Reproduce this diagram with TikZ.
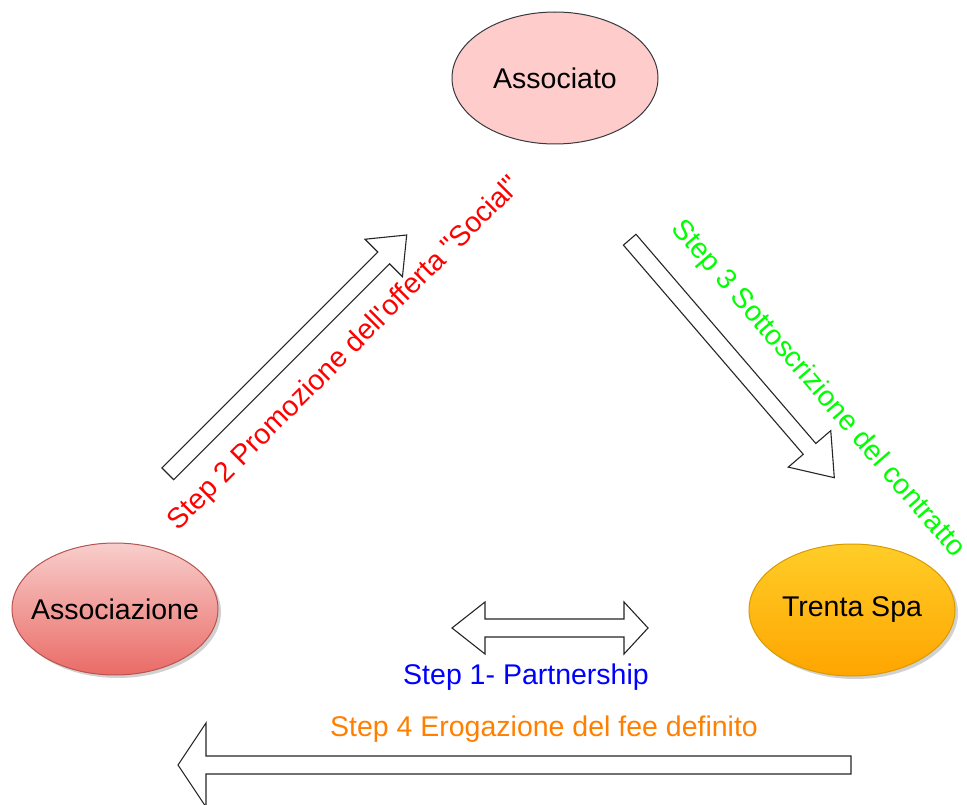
\documentclass[tikz,border=0pt]{standalone}
\usepackage{fontspec}
\setmainfont{Liberation Sans}[Ligatures=TeXOff]
\usetikzlibrary{calc,shapes.geometric,shadows}
\definecolor{pinkfill}{HTML}{FFCCCC}
\definecolor{pinkline}{HTML}{36393D}
\definecolor{redtop}{HTML}{F8CECC}
\definecolor{redbot}{HTML}{EA6B66}
\definecolor{redline}{HTML}{B85450}
\definecolor{ortop}{HTML}{FFCD28}
\definecolor{orbot}{HTML}{FFA500}
\definecolor{orline}{HTML}{D79B00}
\definecolor{steporange}{HTML}{FF8000}
\definecolor{stepgreen}{HTML}{00FF00}
\tikzset{
  actor/.style={ellipse, minimum width=206pt, minimum height=132pt, inner sep=0pt,
    line width=1pt, font=\fontsize{28.5}{32}\selectfont, text=black},
  softshadow/.style={drop shadow={shadow xshift=3pt, shadow yshift=-3pt, fill=black, opacity=0.18}},
  arrowshape/.style={draw=black!85, fill=white, line width=1.1pt, line join=miter},
  steplabel/.style={font=\fontsize{28.5}{32}\selectfont, inner sep=0pt}
}
\newcommand\flexarrow[5]{%
  \coordinate (hb) at ($(#2)!#5!(#1)$);
  \draw[arrowshape] ($(#1)!#3!90:(#2)$) -- ($(hb)!#3!-90:(#1)$) -- ($(hb)!#4!-90:(#1)$)
    -- (#2) -- ($(hb)!#4!90:(#1)$) -- ($(hb)!#3!90:(#1)$) -- ($(#1)!#3!-90:(#2)$) -- cycle;
}
\begin{document}
\begin{tikzpicture}[x=1pt,y=-1pt]
\useasboundingbox[fill=white] (0,0) rectangle (967,805);

% actors
\node[actor, draw=pinkline, fill=pinkfill] (associato) at (555,78) {\makebox[0pt]{Associato}};
\node[actor, draw=redline, top color=redtop, bottom color=redbot, softshadow] (associazione) at (115,609) {\makebox[0pt]{Associazione}};
\node[actor, draw=orline, top color=ortop, bottom color=orbot, softshadow] (trenta) at (852,610) {\makebox[0pt]{Trenta Spa}};

% Step 2 arrow
\coordinate (s2tail) at (167.8,473.8);
\coordinate (s2tip) at (406.7,235);
\flexarrow{s2tail}{s2tip}{8.3pt}{26.5pt}{32.5pt}

% Step 3 arrow
\coordinate (s3tail) at (629.7,239.7);
\coordinate (s3tip) at (834.3,477.7);
\flexarrow{s3tail}{s3tip}{8.3pt}{28pt}{38pt}

% Step 1 double arrow
\coordinate (s1l) at (452,628);
\coordinate (s1r) at (648,628);
\draw[arrowshape] (s1l) -- ([shift={(33,-26)}]s1l) -- ([shift={(33,-9)}]s1l)
  -- ([shift={(-24,-9)}]s1r) -- ([shift={(-24,-26)}]s1r) -- (s1r)
  -- ([shift={(-24,26)}]s1r) -- ([shift={(-24,9)}]s1r)
  -- ([shift={(33,9)}]s1l) -- ([shift={(33,26)}]s1l) -- cycle;

% Step 4 arrow
\coordinate (s4tip) at (178,765);
\coordinate (s4tail) at (851,765);
\draw[arrowshape] (s4tip) -- ([shift={(28,-42)}]s4tip) -- ([shift={(28,-9)}]s4tip)
  -- ([shift={(0,-9)}]s4tail) -- ([shift={(0,9)}]s4tail)
  -- ([shift={(28,9)}]s4tip) -- ([shift={(28,42)}]s4tip) -- cycle;

% labels
\node[steplabel, text=red, rotate=45] (l2) at (345,354) {Step 2 Promozione dell'offerta "Social"};
\node[steplabel, text=stepgreen, rotate=-49.3] (l3) at (818,389) {Step 3 Sottoscrizione del contratto};
\node[steplabel, text=blue] (l1) at (526,677) {Step 1- Partnership};
\node[steplabel, text=steporange] (l4) at (544,729) {Step 4 Erogazione del fee definito};
\end{tikzpicture}
\end{document}
